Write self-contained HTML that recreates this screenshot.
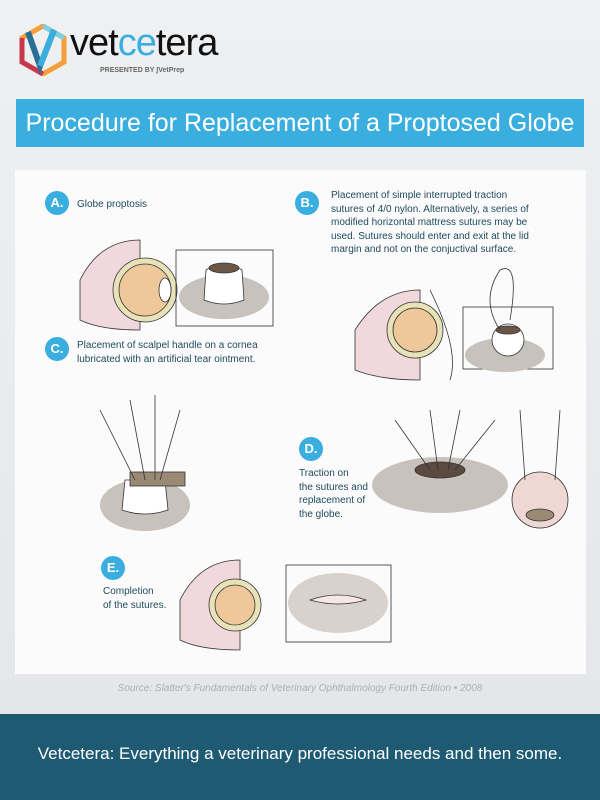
<!DOCTYPE html>
<html><head><meta charset="utf-8"><style>
*{margin:0;padding:0;box-sizing:border-box}
body{width:600px;height:800px;overflow:hidden;background:linear-gradient(#eef0f2,#e3e5e8);font-family:"Liberation Sans",sans-serif;position:relative}
.abs{position:absolute}
.title{left:16px;top:99px;width:568px;height:48px;background:#3aaedf;color:#fff;font-size:25px;line-height:48px;text-align:center}
.panel{left:15px;top:170px;width:571px;height:504px;background:#fbfbfb}
.badge{width:24px;height:24px;border-radius:50%;background:#3aaedf;color:#fff;font-weight:bold;font-size:13px;line-height:24px;text-align:center}
.t{color:#1f4a5e;font-size:10px;line-height:13.5px}
.src{top:683px;width:600px;text-align:center;color:#aab0b6;font-style:italic;font-size:10px}
.foot{left:0;top:714px;width:600px;height:86px;background:#1f5a73;color:#fff;font-size:17px;text-align:center;line-height:80px}
</style></head><body>
<svg class="abs" style="left:18px;top:24px" width="50" height="52" viewBox="0 0 50 52">
<polygon points="25,2 46,14 46,38 25,50 4,38 4,14" fill="none" stroke="#f4a03a" stroke-width="5"/>
<path d="M4 14 L4 38 L25 50" fill="none" stroke="#c9374f" stroke-width="5"/>
<path d="M25 2 L46 14" stroke="#7fcfe0" stroke-width="5"/>
<path d="M10 8 L22 42 L36 6" fill="none" stroke="#2a6f93" stroke-width="6"/>
<path d="M22 42 L36 6" stroke="#3aaedf" stroke-width="6"/>
</svg>
<div class="abs" style="left:70px;top:22px;font-size:38px;color:#111;letter-spacing:-1px">vet<span style="color:#3aaedf">ce</span>tera</div>
<div class="abs" style="left:100px;top:67px;font-size:7px;color:#666;font-weight:bold">PRESENTED BY ∫VetPrep</div>
<div class="abs title">Procedure for Replacement of a Proptosed Globe</div>
<div class="abs panel"></div>

<div class="abs badge" style="left:45px;top:191px">A.</div>
<div class="abs t" style="left:77px;top:198px">Globe proptosis</div>
<div class="abs badge" style="left:295px;top:191px">B.</div>
<div class="abs t" style="left:331px;top:189px">Placement of simple interrupted traction<br>sutures of 4/0 nylon. Alternatively, a series of<br>modified horizontal mattress sutures may be<br>used. Sutures should enter and exit at the lid<br>margin and not on the conjuctival surface.</div>
<div class="abs badge" style="left:45px;top:337px">C.</div>
<div class="abs t" style="left:77px;top:339px">Placement of scalpel handle on a cornea<br>lubricated with an artificial tear ointment.</div>
<div class="abs badge" style="left:299px;top:437px">D.</div>
<div class="abs t" style="left:299px;top:467px">Traction on<br>the sutures and<br>replacement of<br>the globe.</div>
<div class="abs badge" style="left:101px;top:556px">E.</div>
<div class="abs t" style="left:103px;top:585px">Completion<br>of the sutures.</div>

<svg class="abs" style="left:0;top:0" width="600" height="800">
<g stroke="#333" stroke-width="0.8">
<!-- A -->
<path d="M80 280 Q100 240 140 240 L140 330 Q100 330 80 320Z" fill="#f0d8dc"/>
<circle cx="145" cy="290" r="32" fill="#e8e2b8"/>
<circle cx="145" cy="290" r="26" fill="#eec89a"/>
<ellipse cx="165" cy="290" rx="6" ry="12" fill="#fff"/>
<rect x="176" y="250" width="97" height="76" fill="none"/>
<ellipse cx="224" cy="297" rx="45" ry="22" fill="#c8c2bc" stroke="none"/>
<path d="M206 270 Q224 258 242 270 L244 300 Q224 308 204 300Z" fill="#fff"/>
<ellipse cx="224" cy="268" rx="15" ry="5" fill="#6b5546"/>
<!-- B -->
<path d="M355 330 Q380 290 420 290 L420 380 Q380 380 355 370Z" fill="#f0d8dc"/>
<circle cx="415" cy="330" r="28" fill="#e8e2b8"/>
<circle cx="415" cy="330" r="22" fill="#eec89a"/>
<rect x="463" y="307" width="90" height="62" fill="none"/>
<ellipse cx="505" cy="355" rx="40" ry="17" fill="#c8c2bc" stroke="none"/>
<circle cx="508" cy="340" r="16" fill="#fff"/>
<ellipse cx="508" cy="330" rx="12" ry="4" fill="#6b5546"/>
<path d="M430 290 Q460 350 450 380 M500 330 Q480 300 500 270 Q520 260 510 320" fill="none"/>
<!-- C -->
<ellipse cx="145" cy="505" rx="45" ry="26" fill="#c8c2bc" stroke="none"/>
<path d="M125 480 L165 480 L168 510 Q145 518 122 510Z" fill="#fff"/>
<rect x="130" y="472" width="55" height="14" fill="#9a8a74"/>
<path d="M100 410 L135 480 M130 400 L145 480 M155 395 L155 480 M180 410 L160 480" fill="none"/>
<!-- D -->
<ellipse cx="440" cy="485" rx="68" ry="28" fill="#c8c2bc" stroke="none"/>
<ellipse cx="440" cy="470" rx="25" ry="8" fill="#5b4a40"/>
<path d="M395 420 L430 470 M430 410 L438 470 M460 410 L448 470 M495 420 L455 470" fill="none"/>
<circle cx="540" cy="500" r="28" fill="#efd8d4"/>
<ellipse cx="540" cy="515" rx="14" ry="6" fill="#9a8a74"/>
<path d="M520 410 L525 480 M560 410 L555 480" fill="none"/>
<!-- E -->
<path d="M180 600 Q200 560 240 560 L240 650 Q200 650 180 640Z" fill="#f0d8dc"/>
<circle cx="235" cy="605" r="26" fill="#e8e2b8"/>
<circle cx="235" cy="605" r="20" fill="#eec89a"/>
<rect x="286" y="565" width="105" height="77" fill="none"/>
<ellipse cx="338" cy="603" rx="50" ry="30" fill="#d8d2cc" stroke="none"/>
<path d="M310 600 Q338 590 366 600 Q338 608 310 600Z" fill="#f6e6e6"/>
</g>
</svg>
<div class="abs src">Source: Slatter's Fundamentals of Veterinary Ophthalmology Fourth Edition • 2008</div>
<div class="abs foot">Vetcetera: Everything a veterinary professional needs and then some.</div>
</body></html>
